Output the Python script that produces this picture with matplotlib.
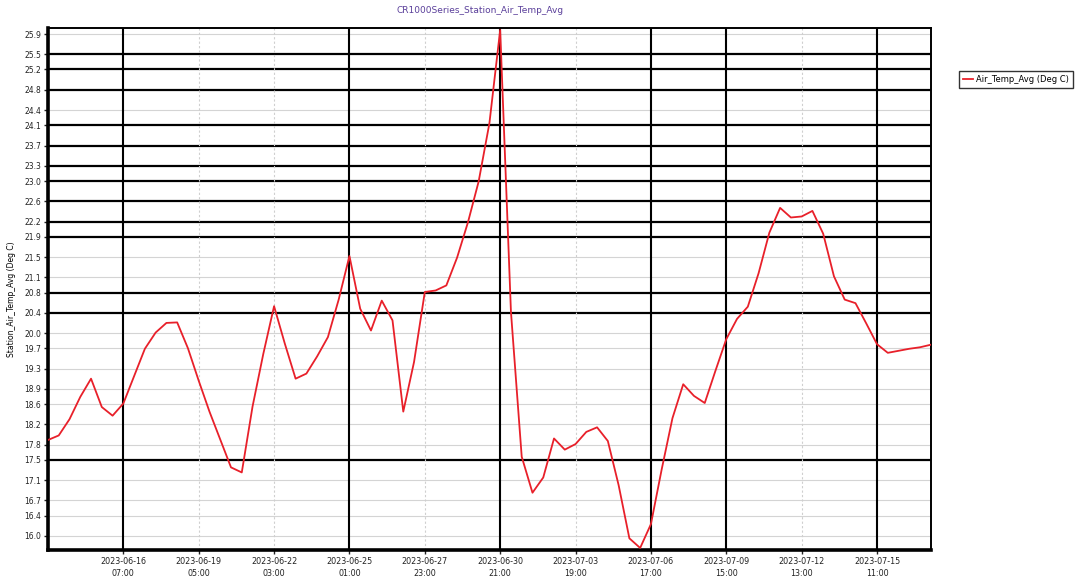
import matplotlib
matplotlib.use("Agg")
import matplotlib.pyplot as plt
import pandas as pd

# Hourly-logger averages, one value every 10 h
start_time = "2023-06-13 09:00"
step = "10h"
air_temp = [
    17.89, 17.98, 18.30, 18.74, 19.10, 18.54, 18.37, 18.61, 19.15, 19.69,
    20.01, 20.20, 20.21, 19.70, 19.06, 18.45, 17.90, 17.35, 17.25, 18.55,
    19.59, 20.53, 19.79, 19.10, 19.20, 19.54, 19.92, 20.66, 21.52, 20.48,
    20.05, 20.64, 20.25, 18.45, 19.43, 20.81, 20.84, 20.94, 21.49, 22.18,
    22.99, 24.14, 25.98, 20.42, 17.56, 16.85, 17.15, 17.92, 17.70, 17.81,
    18.05, 18.14, 17.87, 17.00, 15.95, 15.76, 16.23, 17.31, 18.32, 18.99,
    18.76, 18.62, 19.26, 19.88, 20.28, 20.52, 21.18, 21.98, 22.47, 22.28,
    22.30, 22.41, 21.96, 21.12, 20.66, 20.59, 20.19, 19.78, 19.61, 19.65,
    19.69, 19.72, 19.77,
]

tick_times = [
    "2023-06-16 07:00", "2023-06-19 05:00", "2023-06-22 03:00", "2023-06-25 01:00",
    "2023-06-27 23:00", "2023-06-30 21:00", "2023-07-03 19:00", "2023-07-06 17:00",
    "2023-07-09 15:00", "2023-07-12 13:00", "2023-07-15 11:00",
]
tick_labels = [t.replace(" ", "\n") for t in tick_times]

y_ticks = [
    16.0, 16.4, 16.7, 17.1, 17.5, 17.8, 18.2, 18.6, 18.9, 19.3, 19.7, 20.0, 20.4, 20.8,
    21.1, 21.5, 21.9, 22.2, 22.6, 23.0, 23.3, 23.7, 24.1, 24.4, 24.8, 25.2, 25.5, 25.9,
]
heavy_y = [25.5, 25.2, 24.8, 24.1, 23.7, 23.3, 23.0, 22.6, 22.2, 21.9, 20.8, 20.4, 17.5]
heavy_x = [0, 3, 5, 7, 8, 10]

series_name = "Air_Temp_Avg (Deg C)"
title = "CR1000Series_Station_Air_Temp_Avg"
y_label = "Station_Air_Temp_Avg (Deg C)"

times = pd.date_range(start_time, periods=len(air_temp), freq=step)
tick_dt = pd.to_datetime(tick_times)

fig = plt.figure(figsize=(10.78, 5.82), dpi=100)
ax = fig.add_axes([0.0445, 0.055, 0.819, 0.897])

# grid lines
for v in y_ticks:
    if v in heavy_y:
        ax.axhline(v, color="black", lw=1.6, zorder=1)
    else:
        ax.axhline(v, color="#d4d4d4", lw=0.8, zorder=1)
for i, t in enumerate(tick_dt):
    if i in heavy_x:
        ax.axvline(t, color="black", lw=1.5, zorder=1)
    else:
        ax.axvline(t, color="#cfcfcf", lw=0.8, ls=(0, (2, 2)), zorder=1)

ax.plot(times, air_temp, color="#e8202a", lw=1.3, zorder=3, label=series_name)

ax.set_xlim(times[0], times[-1])
ax.set_ylim(15.72, 26.02)
ax.set_yticks(y_ticks)
ax.set_yticklabels([f"{v:.1f}" for v in y_ticks], fontsize=5.5)
ax.set_xticks(tick_dt)
ax.set_xticklabels(tick_labels, fontsize=5.8, linespacing=1.4)
ax.tick_params(axis="both", length=3, width=1, pad=2, colors="#222222")

for side in ["left", "bottom"]:
    ax.spines[side].set_linewidth(2.6)
for side in ["top", "right"]:
    ax.spines[side].set_linewidth(1.4)

ax.set_ylabel(y_label, fontsize=5.5, labelpad=3)
ax.yaxis.set_label_coords(-0.036, 0.48)
fig.text(0.445, 0.982, title, ha="center", va="center", fontsize=6.5, color="#5a3f9a")

leg = fig.legend(loc="upper left", bbox_to_anchor=(0.886, 0.885), fontsize=6,
                 frameon=True, fancybox=False, edgecolor="black", handlelength=1.2,
                 borderpad=0.45, handletextpad=0.4)
leg.get_frame().set_linewidth(1.0)

fig.savefig("out.png", dpi=100)
